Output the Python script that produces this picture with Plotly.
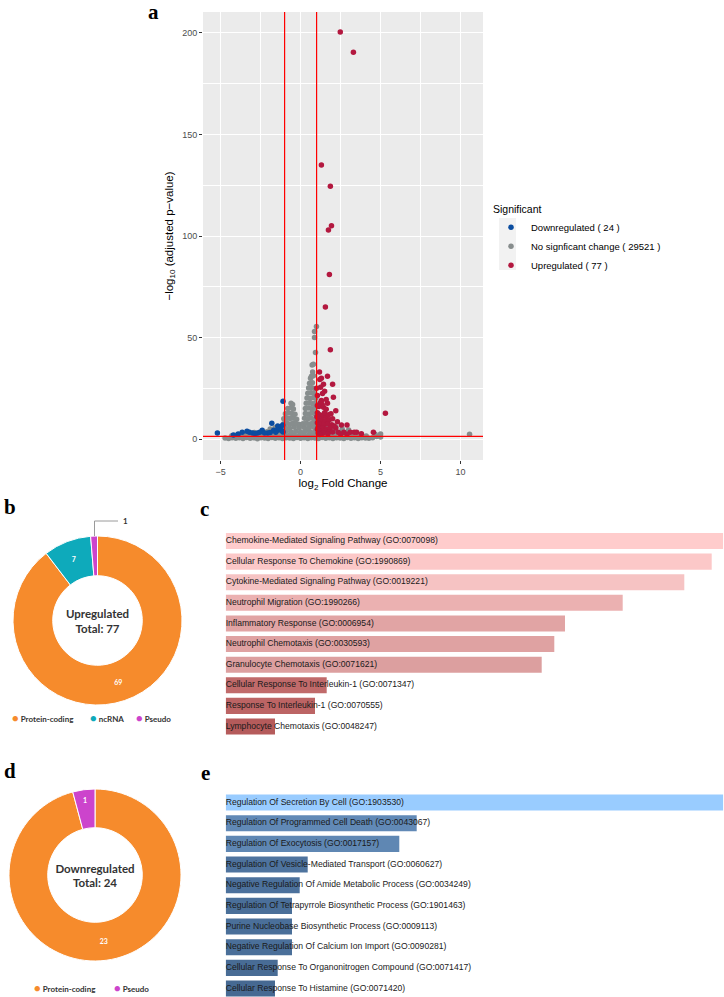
import plotly.graph_objects as go

W, H = 724, 997

# ---------------- Volcano data ----------------
nochange_points = [
    (-4.72,0.5),(-4.5,0.3),(-4.28,0.7),(-4.05,0.4),(-3.83,0.6),(-3.6,0.3),(-3.38,0.8),(-3.15,0.4),(-2.93,0.6),(-2.7,0.2),
    (-2.48,0.7),(-2.25,0.5),(-2.03,0.3),(-1.8,0.8),(-1.58,0.4),(-1.35,0.6),(-1.13,0.3),(-0.9,0.7),(-0.68,0.5),(-0.45,0.3),
    (-0.23,0.8),(0.0,0.4),(0.22,0.6),(0.45,0.3),(0.67,0.7),(0.9,0.5),(1.12,0.3),(1.35,0.8),(1.57,0.4),(1.8,0.6),
    (2.02,0.3),(2.25,0.7),(2.47,0.5),(2.7,0.3),(2.92,0.8),(3.15,0.4),(3.37,0.6),(3.6,0.3),(3.82,0.7),(4.05,0.5),(4.27,0.4),(4.5,0.6),
    (-4.3,1.6),(-4.0,1.9),(-3.7,1.7),(-3.4,2.1),(-3.1,1.8),(-2.8,2.0),(-2.5,1.7),(-2.2,2.2),(-1.9,1.9),(-1.6,2.1),
    (-1.3,1.8),(-1.0,2.2),(-0.7,1.9),(-0.4,2.1),(-0.1,1.8),(0.2,2.2),(0.5,1.9),(0.8,2.1),(1.1,1.8),(1.4,2.2),
    (1.7,1.9),(2.0,2.1),(2.3,1.7),(2.6,2.0),(2.9,1.8),(3.2,1.9),(3.5,1.6),(3.8,1.8),(4.1,1.5),
    (-3.3,3.0),(-2.9,3.3),(-2.5,3.1),(-2.1,3.6),(-1.8,3.4),(-1.5,3.8),(-1.2,3.5),(-0.9,3.9),(-0.6,3.6),(-0.3,3.8),
    (0.0,3.5),(0.3,3.9),(0.6,3.6),(0.9,3.8),(1.2,3.5),(1.5,3.9),(1.8,3.4),(2.1,3.6),(2.4,3.2),(2.8,3.3),(3.2,3.0),
    (-1.9,5.0),(-1.6,5.6),(-1.3,5.3),(-1.0,5.8),(-0.7,5.5),(-0.4,5.9),(-0.1,5.4),(0.2,5.8),(0.5,5.6),(0.8,5.9),
    (1.1,5.4),(1.4,5.7),(1.7,5.2),(2.0,5.0),
    (-1.05,7.5),(-0.85,7.8),(-0.65,7.4),(-0.45,7.9),(-0.25,7.5),(-0.05,7.2),
    (-1.05,10.0),(-0.85,10.3),(-0.65,10.1),(-0.45,10.4),(-0.25,9.8),
    (-0.95,12.5),(-0.75,12.8),(-0.55,12.6),(-0.35,12.2),
    (-0.8,15.0),(-0.6,15.4),(-0.45,14.8),(-0.6,17.6),(-0.5,17.0),
    (0.15,7.5),(0.35,7.8),(0.55,7.4),(0.75,7.9),(0.95,7.6),
    (0.25,10.2),(0.45,10.0),(0.65,10.4),(0.85,9.9),(1.0,10.1),
    (0.3,12.6),(0.5,12.4),(0.7,12.8),(0.9,12.5),
    (0.3,15.1),(0.5,15.3),(0.7,14.9),(0.9,15.2),
    (0.35,17.6),(0.55,17.8),(0.75,17.4),(0.92,17.7),
    (0.4,20.2),(0.6,20.0),(0.8,20.4),(0.95,20.1),
    (0.45,22.6),(0.65,22.8),(0.85,22.5),
    (0.5,25.1),(0.7,25.3),(0.88,24.9),
    (0.56,27.5),(0.74,27.8),(0.62,30.0),(0.68,31.0),(0.8,31.2),(0.75,33.0),(0.8,36.8),(0.72,36.5),
    (0.93,42.6),(0.87,50.0),(0.87,53.0),(0.99,55.4),
    (1.2,7.5),(1.5,7.0),(1.8,6.8),(2.2,6.0),(2.6,5.0),(3.0,4.5),(1.3,9.5),(1.6,8.8),
    (4.66,2.4),(5.0,2.5),(5.0,1.0),(4.75,1.3),(10.56,2.4),
]
down_points = [
    (-5.2,3.0),(-1.1,18.6),(-1.8,7.8),(-1.43,6.4),(-1.24,5.9),(-1.12,6.9),(-1.68,4.4),(-1.45,4.4),
    (-1.2,4.2),(-2.05,3.0),(-2.4,4.4),(-2.55,3.4),(-2.7,3.0),(-3.0,3.0),(-3.2,3.4),(-3.35,3.9),
    (-3.65,3.4),(-3.9,2.5),(-2.25,3.0),(-1.9,3.2),(-1.55,3.4),(-1.1,3.5),(-2.85,2.7),(-4.2,2.0),
]
up_points = [
    (2.48,200.5),(3.3,190.5),(1.3,135.0),(1.86,124.5),(1.93,105.0),(1.74,103.0),(1.8,81.0),(1.55,65.0),
    (1.86,44.0),(1.18,33.0),(1.68,31.0),(1.3,30.0),(1.2,29.3),(2.0,27.0),(1.43,27.0),(1.5,23.5),
    (1.05,21.5),(1.37,22.5),(1.3,19.0),(2.05,20.6),(1.68,17.6),(1.43,15.7),(1.6,14.7),(5.3,12.7),
    (2.55,6.9),(2.9,6.9),(2.2,5.4),(2.7,3.4),(3.1,3.4),(3.35,3.4),(3.5,3.4),(4.55,3.4),
    (1.05,13.0),(1.2,12.0),(1.4,11.5),(1.6,11.0),(1.1,10.0),(1.3,9.5),(1.55,9.0),(1.8,9.5),
    (2.0,10.0),(1.05,8.0),(1.25,7.5),(1.45,7.0),(1.7,7.5),(1.95,7.0),(1.1,6.0),(1.35,5.5),
    (1.6,5.0),(1.85,5.5),(2.1,6.5),(1.2,4.0),(1.5,3.8),(1.8,3.6),(2.0,3.5),(2.35,3.4),
    (1.1,3.0),(1.4,2.9),(1.7,2.5),(2.5,2.5),(1.15,16.0),(1.35,17.0),(1.9,12.5),(1.0,25.0),
    (1.25,25.5),(2.2,14.0),(1.25,18.0),(1.05,16.5),(1.5,13.0),(1.75,12.0),(2.3,8.5),(1.05,4.8),
    (1.2,2.2),(3.8,2.6),(2.9,2.4),(1.6,19.5),(1.02,11.0),
]
gray_x, gray_y = zip(*nochange_points)
down_x, down_y = zip(*down_points)
up_x, up_y = zip(*up_points)

legend_names = ["Downregulated ( 24 )", "No signficant change ( 29521 )", "Upregulated ( 77 )"]

# ---------------- Donut data ----------------
up_types = ["Protein-coding", "ncRNA", "Pseudo"]
up_counts = [69, 7, 1]
down_types = ["Protein-coding", "Pseudo"]
down_counts = [23, 1]
type_colors = {"Protein-coding": "#F68B2C", "ncRNA": "#0EAABB", "Pseudo": "#CC44CC"}

# ---------------- Enrichment bars ----------------
c_terms = [
    "Chemokine-Mediated Signaling Pathway (GO:0070098)",
    "Cellular Response To Chemokine (GO:1990869)",
    "Cytokine-Mediated Signaling Pathway (GO:0019221)",
    "Neutrophil Migration (GO:1990266)",
    "Inflammatory Response (GO:0006954)",
    "Neutrophil Chemotaxis (GO:0030593)",
    "Granulocyte Chemotaxis (GO:0071621)",
    "Cellular Response To Interleukin-1 (GO:0071347)",
    "Response To Interleukin-1 (GO:0070555)",
    "Lymphocyte Chemotaxis (GO:0048247)",
]
c_scores = [49.76, 48.60, 45.86, 39.70, 33.93, 32.86, 31.60, 10.10, 8.93, 4.93]
c_colors = ["#FFCCCC", "#FCC8C8", "#F6C3C3", "#EBB1B1", "#E1A4A4", "#DFA2A2", "#DC9F9F", "#C06A6A", "#BC6464", "#B55B5B"]

e_terms = [
    "Regulation Of Secretion By Cell (GO:1903530)",
    "Regulation Of Programmed Cell Death (GO:0043067)",
    "Regulation Of Exocytosis (GO:0017157)",
    "Regulation Of Vesicle-Mediated Transport (GO:0060627)",
    "Negative Regulation Of Amide Metabolic Process (GO:0034249)",
    "Regulation Of Tetrapyrrole Biosynthetic Process (GO:1901463)",
    "Purine Nucleobase Biosynthetic Process (GO:0009113)",
    "Negative Regulation Of Calcium Ion Import (GO:0090281)",
    "Cellular Response To Organonitrogen Compound (GO:0071417)",
    "Cellular Response To Histamine (GO:0071420)",
]
e_scores = [49.76, 19.10, 17.36, 8.20, 7.40, 6.63, 6.63, 6.63, 5.20, 4.93]
e_colors = ["#99CCFF", "#6189B6", "#5F87B3", "#4E739E", "#4C719C", "#4A6F99", "#4A6F99", "#4A6F99", "#486C95", "#466992"]


def px(x):
    return x / W


def py(y):
    return 1 - y / H


fig = go.Figure()

# volcano traces
fig.add_trace(go.Scatter(x=gray_x, y=gray_y, mode="markers", name=legend_names[1], legendrank=2,
                         marker=dict(color="#878D8D", size=5.5), xaxis="x", yaxis="y"))
fig.add_trace(go.Scatter(x=down_x, y=down_y, mode="markers", name=legend_names[0], legendrank=1,
                         marker=dict(color="#0B4DA0", size=5.5), xaxis="x", yaxis="y"))
fig.add_trace(go.Scatter(x=up_x, y=up_y, mode="markers", name=legend_names[2], legendrank=3,
                         marker=dict(color="#B3183F", size=5.5), xaxis="x", yaxis="y"))

# bars c
fig.add_trace(go.Bar(x=c_scores, y=c_terms, orientation="h", marker=dict(color=c_colors, line=dict(width=0)),
                     xaxis="x2", yaxis="y2", showlegend=False, hoverinfo="skip"))
fig.add_trace(go.Scatter(x=[0] * len(c_terms), y=c_terms, mode="text", text=c_terms, textposition="middle right",
                         textfont=dict(family="Liberation Sans, Arial", size=8.6, color="#1a1a1a"),
                         xaxis="x2", yaxis="y2", showlegend=False, cliponaxis=False, hoverinfo="skip"))
# bars e
fig.add_trace(go.Bar(x=e_scores, y=e_terms, orientation="h", marker=dict(color=e_colors, line=dict(width=0)),
                     xaxis="x3", yaxis="y3", showlegend=False, hoverinfo="skip"))
fig.add_trace(go.Scatter(x=[0] * len(e_terms), y=e_terms, mode="text", text=e_terms, textposition="middle right",
                         textfont=dict(family="Liberation Sans, Arial", size=8.6, color="#1a1a1a"),
                         xaxis="x3", yaxis="y3", showlegend=False, cliponaxis=False, hoverinfo="skip"))

pie_font = "Lato, Open Sans, sans-serif"
# donut b
fig.add_trace(go.Pie(labels=up_types, values=up_counts, hole=0.53, sort=False, direction="clockwise", rotation=0,
                     marker=dict(colors=[type_colors[t] for t in up_types], line=dict(color="white", width=1)),
                     textinfo="value", textposition=["inside", "inside", "none"],
                     insidetextfont=dict(family=pie_font, size=7, color="white", weight="bold"),
                     domain=dict(x=[px(13), px(182)], y=[py(705), py(536)]), showlegend=False,
                     title=dict(text="<b>Upregulated<br>Total: 77</b>", position="middle center",
                                font=dict(family=pie_font, size=11.5, color="#333333"))))
# donut d
fig.add_trace(go.Pie(labels=down_types, values=down_counts, hole=0.55, sort=False, direction="clockwise", rotation=0,
                     marker=dict(colors=[type_colors[t] for t in down_types], line=dict(color="white", width=1)),
                     textinfo="value", textposition="inside",
                     insidetextfont=dict(family=pie_font, size=7, color="white", weight="bold"),
                     domain=dict(x=[px(9), px(181)], y=[py(961), py(789)]), showlegend=False,
                     title=dict(text="<b>Downregulated<br>Total: 24</b>", position="middle center",
                                font=dict(family=pie_font, size=11.5, color="#333333"))))

shapes = []
# volcano panel background
shapes.append(dict(type="rect", xref="x domain", yref="y domain", x0=0, x1=1, y0=0, y1=1,
                   fillcolor="#EBEBEB", line=dict(width=0), layer="below"))
for xv in (-1, 1):
    shapes.append(dict(type="line", xref="x", yref="y domain", x0=xv, x1=xv, y0=0, y1=1,
                       line=dict(color="#FF0000", width=1.2)))
shapes.append(dict(type="line", xref="x domain", yref="y", x0=0, x1=1, y0=1.3, y1=1.3,
                   line=dict(color="#FF0000", width=1.2)))
# legend key background
shapes.append(dict(type="rect", xref="paper", yref="paper", x0=px(499), x1=px(516), y0=py(270), y1=py(218),
                   fillcolor="#F2F2F2", line=dict(width=0), layer="below"))
# leader line for the '1' label in donut b
shapes.append(dict(type="path", xref="paper", yref="paper",
                   path=f"M {px(94.5)} {py(536)} L {px(94.5)} {py(521)} L {px(118)} {py(521)}",
                   line=dict(color="#9a9a9a", width=1)))

annotations = []
letter_font = dict(family="Liberation Serif, Times New Roman, serif", size=21, color="black")
for txt, x, y in [("a", 153, 12), ("b", 10, 507), ("c", 204, 509), ("d", 10, 771), ("e", 205, 773)]:
    annotations.append(dict(text=f"<b>{txt}</b>", x=px(x), y=py(y), xref="paper", yref="paper",
                            showarrow=False, xanchor="center", yanchor="middle", font=letter_font))
annotations.append(dict(text="<b>1</b>", x=px(121), y=py(521), xref="paper", yref="paper", showarrow=False,
                        xanchor="left", yanchor="middle", font=dict(family=pie_font, size=8, color="#333")))


def legend_items(types, xs, y):
    for t, x in zip(types, xs):
        annotations.append(dict(text=f"<span style='color:{type_colors[t]};font-size:11px'>●</span> <b>{t}</b>",
                                x=px(x), y=py(y), xref="paper", yref="paper", showarrow=False,
                                xanchor="left", yanchor="middle",
                                font=dict(family=pie_font, size=8, color="#333333")))


legend_items(up_types, [10, 88, 134], 717)
legend_items(down_types, [32, 112], 987)

axis_common = dict(showgrid=True, gridcolor="white", gridwidth=1.1, zeroline=False, ticks="outside", ticklen=3,
                   tickcolor="#333333", tickwidth=0.8,
                   tickfont=dict(family="Liberation Sans, Arial", size=9, color="#4D4D4D"), showline=False)

fig.update_layout(
    width=W, height=H, margin=dict(l=0, r=0, t=0, b=0),
    paper_bgcolor="white", plot_bgcolor="rgba(0,0,0,0)",
    font=dict(family="Liberation Sans, Arial", color="black"),
    xaxis=dict(domain=[px(203), px(483)], range=[-6.1, 11.4], tick0=0, dtick=5, anchor="y",
               minor=dict(dtick=2.5, showgrid=True, gridcolor="white", gridwidth=0.55),
               title=dict(text="log<sub>2</sub> Fold Change", standoff=3,
                          font=dict(family="Liberation Sans, Arial", size=11.5, color="black")),
               **axis_common),
    yaxis=dict(domain=[py(460), py(12)], range=[-10.3, 210.3], tick0=0, dtick=50, anchor="x",
               minor=dict(dtick=25, showgrid=True, gridcolor="white", gridwidth=0.55),
               title=dict(text="\u2212log<sub>10</sub> (adjusted p\u2212value)", standoff=6,
                          font=dict(family="Liberation Sans, Arial", size=11.5, color="black")),
               **axis_common),
    xaxis2=dict(domain=[px(225.7), px(723.3)], range=[0, c_scores[0]], visible=False, anchor="y2"),
    yaxis2=dict(domain=[py(736.8), py(530.7)], range=[9.5, -0.5], visible=False, anchor="x2",
                categoryorder="array", categoryarray=c_terms),
    xaxis3=dict(domain=[px(225.7), px(723.3)], range=[0, e_scores[0]], visible=False, anchor="y3"),
    yaxis3=dict(domain=[0, py(792.2)], range=[9.41, -0.5], visible=False, anchor="x3",
                categoryorder="array", categoryarray=e_terms),
    bargap=0.22,
    showlegend=True,
    legend=dict(x=px(491), y=py(199), xanchor="left", yanchor="top", bgcolor="rgba(0,0,0,0)",
                title=dict(text="Significant", font=dict(size=10.5, color="black")),
                font=dict(family="Liberation Sans, Arial", size=9.5, color="black"),
                tracegroupgap=0),
    shapes=shapes, annotations=annotations,
)

fig.write_html("out.html")
